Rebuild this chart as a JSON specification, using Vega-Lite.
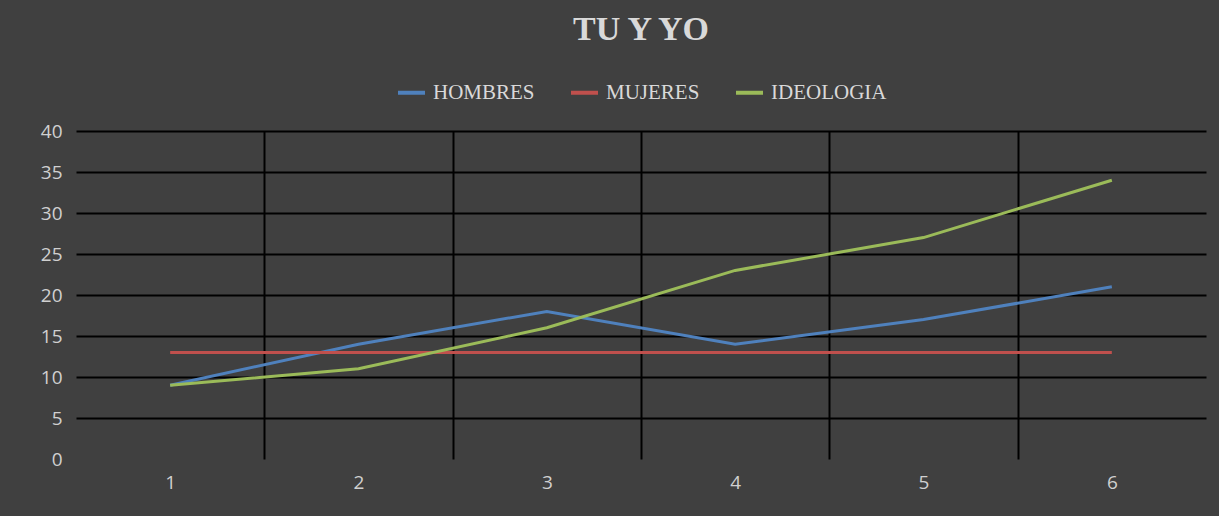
{
  "$schema": "https://vega.github.io/schema/vega-lite/v6.json",
  "width": 1130,
  "height": 328,
  "autosize": {"type": "none"},
  "padding": {"left": 76, "top": 131, "right": 13, "bottom": 57},
  "background": "#404040",
  "title": {
    "text": "TU Y YO",
    "font": "Liberation Serif",
    "fontWeight": "bold",
    "fontSize": 34,
    "color": "#d9d9d9",
    "anchor": "middle",
    "offset": 30
  },
  "data": {
    "values": [
      {"x": 1, "serie": "HOMBRES", "valor": 9},
      {"x": 2, "serie": "HOMBRES", "valor": 14},
      {"x": 3, "serie": "HOMBRES", "valor": 18},
      {"x": 4, "serie": "HOMBRES", "valor": 14},
      {"x": 5, "serie": "HOMBRES", "valor": 17},
      {"x": 6, "serie": "HOMBRES", "valor": 21},
      {"x": 1, "serie": "MUJERES", "valor": 13},
      {"x": 2, "serie": "MUJERES", "valor": 13},
      {"x": 3, "serie": "MUJERES", "valor": 13},
      {"x": 4, "serie": "MUJERES", "valor": 13},
      {"x": 5, "serie": "MUJERES", "valor": 13},
      {"x": 6, "serie": "MUJERES", "valor": 13},
      {"x": 1, "serie": "IDEOLOGIA", "valor": 9},
      {"x": 2, "serie": "IDEOLOGIA", "valor": 11},
      {"x": 3, "serie": "IDEOLOGIA", "valor": 16},
      {"x": 4, "serie": "IDEOLOGIA", "valor": 23},
      {"x": 5, "serie": "IDEOLOGIA", "valor": 27},
      {"x": 6, "serie": "IDEOLOGIA", "valor": 34}
    ]
  },
  "mark": {"type": "line", "strokeWidth": 3, "interpolate": "linear"},
  "encoding": {
    "x": {
      "field": "x",
      "type": "quantitative",
      "scale": {"domain": [0.5, 6.5], "nice": false, "zero": false},
      "axis": {
        "title": null,
        "values": [1, 1.5, 2, 2.5, 3, 3.5, 4, 4.5, 5, 5.5, 6],
        "labelExpr": "datum.value % 1 === 0 ? format(datum.value, 'd') : ''",
        "labelFont": "Open Sans",
        "labelFontSize": 19,
        "labelColor": "#d0d0d0",
        "labelPadding": 14,
        "ticks": false,
        "domain": false,
        "grid": true,
        "gridColor": "#000000",
        "gridWidth": 2,
        "gridOpacity": {"condition": {"test": "datum.value % 1 === 0", "value": 0}, "value": 1}
      }
    },
    "y": {
      "field": "valor",
      "type": "quantitative",
      "scale": {"domain": [0, 40], "nice": false},
      "axis": {
        "title": null,
        "values": [0, 5, 10, 15, 20, 25, 30, 35, 40],
        "labelFont": "Open Sans",
        "labelFontSize": 19,
        "labelColor": "#d0d0d0",
        "labelPadding": 14,
        "ticks": false,
        "domain": false,
        "grid": true,
        "gridColor": "#000000",
        "gridWidth": 2,
        "gridOpacity": {"condition": {"test": "datum.value === 0", "value": 0}, "value": 1}
      }
    },
    "color": {
      "field": "serie",
      "type": "nominal",
      "scale": {
        "domain": ["HOMBRES", "MUJERES", "IDEOLOGIA"],
        "range": ["#4f81bd", "#c0504d", "#9bbb59"]
      },
      "legend": {
        "title": null,
        "orient": "top",
        "direction": "horizontal",
        "symbolType": "stroke",
        "symbolSize": 729,
        "symbolStrokeWidth": 4,
        "labelFont": "Liberation Serif",
        "labelFontSize": 21,
        "labelColor": "#d9d9d9",
        "labelOffset": 6,
        "columnPadding": 28,
        "offset": 28
      }
    }
  },
  "config": {
    "view": {"stroke": null},
    "legend": {"layout": {"top": {"anchor": "middle"}}}
  }
}
